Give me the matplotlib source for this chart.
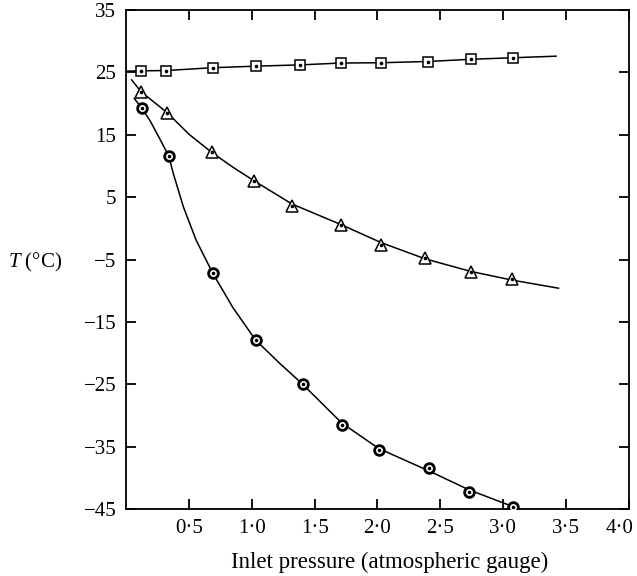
#!/usr/bin/env python3
"""Outlet temperature against inlet pressure, three runs."""

import matplotlib

matplotlib.use("Agg")
import matplotlib.pyplot as plt
from matplotlib.transforms import ScaledTranslation

# --- data ---
# squares
sq_x = [0.12, 0.32, 0.69, 1.03, 1.38, 1.71, 2.03, 2.40, 2.74, 3.08]
sq_y = [25.25, 25.3, 25.75, 26.0, 26.2, 26.55, 26.5, 26.7, 27.1, 27.35]
sq_curve_x = [0.0, 0.12, 0.32, 0.69, 1.03, 1.38, 1.71, 2.03, 2.40, 2.74, 3.08, 3.42]
sq_curve_y = [25.2, 25.25, 25.3, 25.75, 26.0, 26.2, 26.5, 26.55, 26.75, 27.1, 27.35, 27.6]

# triangles
tri_x = [0.12, 0.33, 0.68, 1.02, 1.32, 1.71, 2.03, 2.38, 2.74, 3.07]
tri_y = [21.9, 18.5, 12.2, 7.6, 3.5, 0.6, -2.7, -4.8, -7.05, -8.2]
tri_curve_x = [0.045, 0.12, 0.33, 0.50, 0.68, 0.85, 1.02, 1.32, 1.71, 2.03, 2.38, 2.74, 3.07, 3.44]
tri_curve_y = [23.8, 21.9, 18.5, 15.1, 12.2, 9.8, 7.6, 3.9, 0.6, -2.3, -4.9, -6.9, -8.3, -9.6]

# circles
cir_x = [0.125, 0.34, 0.69, 1.03, 1.405, 1.715, 2.01, 2.41, 2.725, 3.075]
cir_y = [19.3, 11.6, -7.2, -17.9, -25.0, -31.6, -35.5, -38.5, -42.2, -44.6]
cir_curve_x = [0.066, 0.125, 0.19, 0.27, 0.34, 0.376, 0.456, 0.557, 0.69, 0.85, 1.03,
               1.22, 1.405, 1.715, 2.01, 2.41, 2.725, 3.075, 3.13]
cir_curve_y = [20.8, 19.3, 17.3, 14.3, 11.6, 8.8, 3.46, -1.87, -7.2, -12.7, -17.9,
               -21.6, -25.0, -31.2, -35.3, -38.9, -41.9, -44.6, -45.0]

x_ticks = [0.5, 1.0, 1.5, 2.0, 2.5, 3.0, 3.5, 4.0]
x_labels = ["0·5", "1·0", "1·5", "2·0", "2·5", "3·0", "3·5", "4·0"]
y_ticks = [35, 25, 15, 5, -5, -15, -25, -35, -45]


def main():
    plt.rcParams["font.family"] = ["Liberation Serif", "DejaVu Serif"]
    plt.rcParams["font.size"] = 15
    plt.rcParams["mathtext.fontset"] = "custom"
    plt.rcParams["mathtext.it"] = "Liberation Serif:italic"
    plt.rcParams["mathtext.rm"] = "Liberation Serif"

    fig = plt.figure(figsize=(6.37, 5.76), dpi=100)
    ax = fig.add_axes([0.1978, 0.1163, 0.7896, 0.8663])

    line_kw = dict(color="black", lw=1.1, zorder=2)
    ax.plot(sq_curve_x, sq_curve_y, **line_kw)
    ax.plot(tri_curve_x, tri_curve_y, **line_kw)
    ax.plot(cir_curve_x, cir_curve_y, **line_kw)

    ax.plot(sq_x, sq_y, ls="none", marker="s", ms=7.5, mfc="white",
            mec="black", mew=1.1, zorder=3)
    ax.plot(tri_x, tri_y, ls="none", marker="^", ms=9, mfc="white",
            mec="black", mew=1.1, zorder=3)
    ax.plot(cir_x, cir_y, ls="none", marker="o", ms=7, mfc="white",
            mec="black", mew=2.0, zorder=3)
    # centre dots
    for xs, ys in ((sq_x, sq_y), (tri_x, tri_y), (cir_x, cir_y)):
        ax.plot(xs, ys, ls="none", marker="o", ms=1.6, color="black", zorder=4)

    ax.set_xlim(0, 4.0)
    ax.set_ylim(-45, 35)
    ax.set_xticks(x_ticks)
    ax.set_xticklabels(x_labels)
    ax.set_yticks(y_ticks)
    ax.set_yticklabels([str(v).replace("-", "\u2212") for v in y_ticks])
    ax.tick_params(direction="in", length=7, width=1.3, top=True, right=True,
                   labelsize=15, pad=7)
    for sp in ax.spines.values():
        sp.set_linewidth(1.3)

    # last x label sits a little left so it stays on the page
    last = ax.get_xticklabels()[-1]
    last.set_transform(last.get_transform()
                       + ScaledTranslation(-7 / 72, 0, fig.dpi_scale_trans))

    fig.text(390 / 637, 1 - 562 / 576, "Inlet pressure (atmospheric gauge)",
             fontsize=16.5, ha="center", va="center")
    fig.text(0.013, 0.545, "$T$ (°C)", fontsize=15, ha="left", va="center")

    fig.savefig("out.png", dpi=100)


if __name__ == "__main__":
    main()
